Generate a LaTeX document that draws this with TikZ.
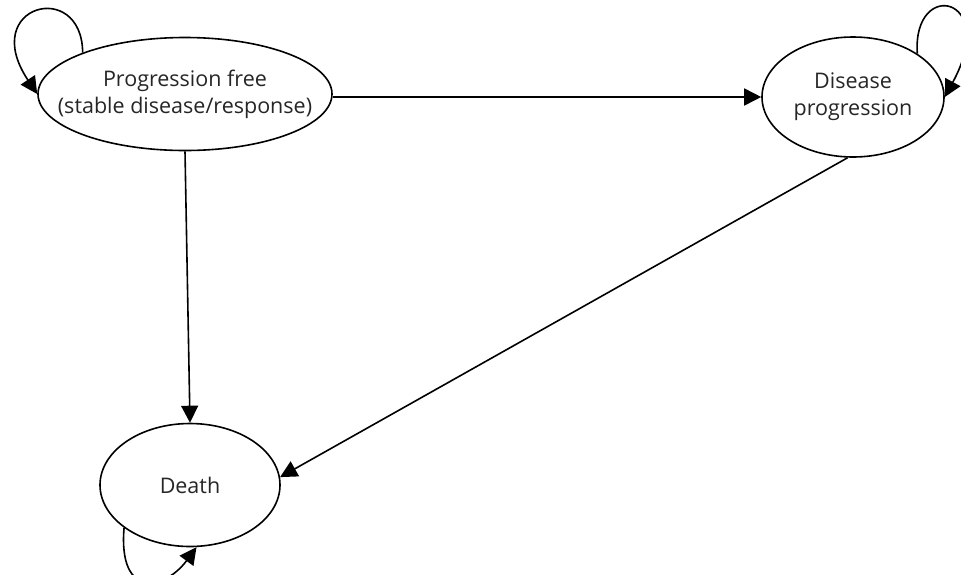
\documentclass[tikz,border=0pt]{standalone}
\usepackage{fontspec}
\setmainfont{Open Sans}
\usetikzlibrary{arrows.meta,shapes.geometric}
\begin{document}
\begin{tikzpicture}[x=1pt,y=-1pt,
  state/.style={draw,ellipse,line width=1.6pt,inner xsep=-45pt,inner ysep=-8pt,font=\fontsize{21.5}{27}\selectfont,align=center,text=black!85},
  conn/.style={line width=1.6pt,-{Triangle[length=17pt,width=17pt]}}]
\useasboundingbox (0,0) rectangle (961,574);
\node[state,minimum width=294pt,minimum height=113pt] (pf) at (185,94) {Progression free\\(stable disease/response)};
\node[state,minimum width=182pt,minimum height=120pt] (dp) at (853,97) {Disease\\progression};
\node[state,minimum width=180pt,minimum height=123pt] (de) at (190,485) {Death};
\draw[conn] (pf.east |- 0,97) -- (dp.west |- 0,97);
\draw[conn] (pf.south) -- (de.north);
\draw[conn] (dp.-95) -- (de.5);
\draw[conn] (pf.158) .. controls (82,-22) and (-22,5) .. (pf.180);
\draw[conn] (dp.34) .. controls (912,-22) and (1000,-5) .. (dp.0);
\draw[conn] (de.213) .. controls (118,600) and (165,590) .. (de.-84);
\end{tikzpicture}
\end{document}
